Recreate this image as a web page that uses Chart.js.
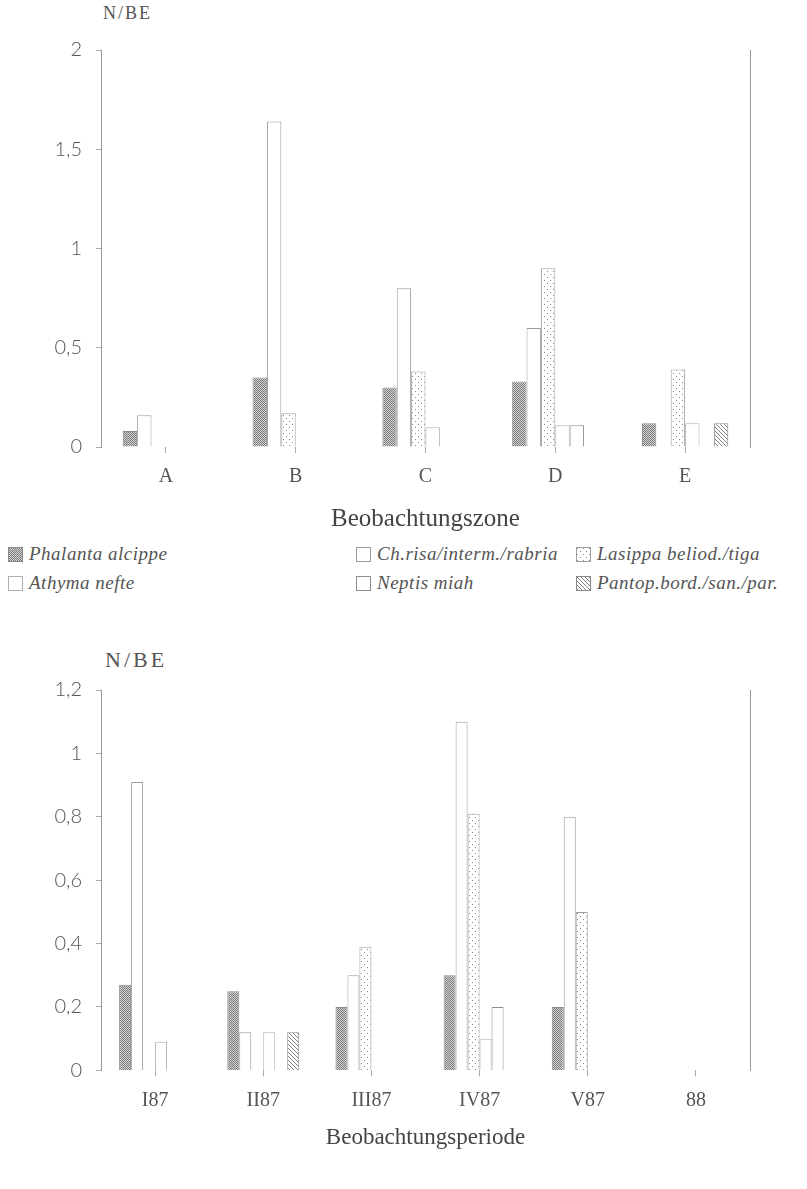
<!DOCTYPE html>
<html>
<head>
<meta charset="utf-8">
<script src="https://cdn.jsdelivr.net/npm/chart.js@4.4.1/dist/chart.umd.min.js"></script>
<style>
body { margin: 0; background: #fff; width: 807px; height: 1189px; position: relative; overflow: hidden; font-family: "Liberation Serif", serif; color: #555; }
.box { position: absolute; left: 0; width: 807px; }
.unit { position: absolute; color: #555; }
.item { position: absolute; display: flex; align-items: center; white-space: nowrap; font-style: italic; font-size: 19px; letter-spacing: 0.5px; color: #555; }
.item canvas { margin-right: 6px; }
</style>
</head>
<body>
<div class="unit" style="left:103px;top:3px;font-size:18px;letter-spacing:2px">N/BE</div>
<div class="box" style="top:0;height:538px"><canvas id="chart-zone"></canvas></div>
<div id="legend"></div>
<div class="unit" style="left:105px;top:647px;font-size:22px;letter-spacing:3px">N/BE</div>
<div class="box" style="top:600px;height:556px"><canvas id="chart-period"></canvas></div>
<script>
const species = ['Phalanta alcippe', 'Ch.risa/interm./rabria', 'Lasippa beliod./tiga', 'Athyma nefte', 'Neptis miah', 'Pantop.bord./san./par.'];

// oben: nach Beobachtungszone
const zones = ['A', 'B', 'C', 'D', 'E'];
const phalantaZone = [0.08, 0.35, 0.30, 0.33, 0.12];
const chrisaZone   = [0.16, 1.64, 0.80, 0.60, 0];
const lasippaZone  = [0, 0.17, 0.38, 0.90, 0.39];
const athymaZone   = [0, 0, 0.10, 0.11, 0.12];
const neptisZone   = [0, 0, 0, 0.11, 0];
const pantopZone   = [0, 0, 0, 0, 0.12];
const zoneTicks = [0, 0.5, 1, 1.5, 2];

// unten: nach Beobachtungsperiode
const periods = ['I87', 'II87', 'III87', 'IV87', 'V87', '88'];
const phalantaPeriod = [0.27, 0.25, 0.20, 0.30, 0.20, 0];
const chrisaPeriod   = [0.91, 0.12, 0.30, 1.10, 0.80, 0];
const lasippaPeriod  = [0, 0, 0.39, 0.81, 0.50, 0];
const athymaPeriod   = [0.09, 0.12, 0, 0.10, 0, 0];
const neptisPeriod   = [0, 0, 0, 0.20, 0, 0];
const pantopPeriod   = [0, 0.12, 0, 0, 0, 0];
const periodTicks = [0, 0.2, 0.4, 0.6, 0.8, 1, 1.2];

function makePattern(kind) {
  const c = document.createElement('canvas');
  const ctx = c.getContext('2d');
  if (kind === 'dense') {
    c.width = c.height = 2;
    ctx.fillStyle = '#d4d4d4'; ctx.fillRect(0, 0, 2, 2);
    ctx.fillStyle = '#7a7a7a'; ctx.fillRect(0, 0, 1, 1); ctx.fillRect(1, 1, 1, 1);
  } else if (kind === 'sparse') {
    c.width = c.height = 6;
    ctx.fillStyle = '#fff'; ctx.fillRect(0, 0, 6, 6);
    ctx.fillStyle = '#888'; ctx.fillRect(1, 1, 1, 1); ctx.fillRect(4, 4, 1, 1);
  } else {
    c.width = c.height = 4;
    ctx.fillStyle = '#fff'; ctx.fillRect(0, 0, 4, 4);
    ctx.fillStyle = '#808080';
    for (let i = 0; i < 4; i++) ctx.fillRect(i, i, 1, 1);
  }
  return ctx.createPattern(c, 'repeat');
}

const fills = [makePattern('dense'), '#fff', makePattern('sparse'), '#fff', '#fff', makePattern('hatch')];
const borders = ['#8a8a8a', '#9c9c9c', '#a0a0a0', '#b0b0b0', '#8c8c8c', '#8a8a8a'];

const fmt = v => String(Math.round(v * 10) / 10).replace('.', ',');

function drawChart(id, labels, series, ticks, title, cfg) {
  const max = ticks[ticks.length - 1];
  return new Chart(document.getElementById(id), {
    type: 'bar',
    data: {
      labels: labels,
      datasets: series.map((d, i) => ({
        label: species[i],
        data: d,
        backgroundColor: fills[i],
        borderColor: borders[i],
        borderWidth: { top: 1, left: 1, right: 1, bottom: 0 },
        categoryPercentage: 0.665,
        barPercentage: 1
      }))
    },
    options: {
      responsive: true, maintainAspectRatio: false, animation: false,
      layout: { padding: { left: 0, right: 57, top: cfg.top, bottom: 0 } },
      plugins: { legend: { display: false }, tooltip: { enabled: false } },
      scales: {
        x: {
          grid: { display: true, offset: false, drawOnChartArea: false, tickLength: 6, color: '#aaa' },
          border: { display: false },
          ticks: { color: '#555', font: { family: 'Liberation Serif', size: 20 }, padding: 12 },
          title: { display: true, text: title, color: '#444', font: { family: 'Liberation Serif', size: cfg.titleSize }, padding: { top: cfg.titlePad, bottom: 4 } }
        },
        y: {
          min: 0, max: max,
          afterBuildTicks: a => { a.ticks = ticks.map(v => ({ value: v })); },
          afterFit: a => { a.width = 101; },
          ticks: { color: '#555', font: { family: 'Lato', size: 20, weight: '300' }, padding: 14, callback: fmt },
          grid: { drawOnChartArea: false, tickLength: 5, color: '#aaa' },
          border: { color: '#999' }
        },
        y2: {
          position: 'right', min: 0, max: max,
          afterFit: a => { a.width = 0; },
          ticks: { display: false },
          grid: { display: false },
          border: { color: '#999' }
        }
      }
    }
  });
}

drawChart('chart-zone', zones, [phalantaZone, chrisaZone, lasippaZone, athymaZone, neptisZone, pantopZone], zoneTicks, 'Beobachtungszone', { top: 50, titleSize: 25, titlePad: 3 });
drawChart('chart-period', periods, [phalantaPeriod, chrisaPeriod, lasippaPeriod, athymaPeriod, neptisPeriod, pantopPeriod], periodTicks, 'Beobachtungsperiode', { top: 90, titleSize: 23, titlePad: 0 });

// Legende zwischen den beiden Diagrammen
const legendCols = [8, 356, 576];
const legendRows = [543, 572];
const legend = document.getElementById('legend');
species.forEach((name, i) => {
  const item = document.createElement('div');
  item.className = 'item';
  item.style.left = legendCols[i % 3] + 'px';
  item.style.top = legendRows[Math.floor(i / 3)] + 'px';
  const sw = document.createElement('canvas');
  sw.width = 15; sw.height = 15;
  const g = sw.getContext('2d');
  g.fillStyle = fills[i]; g.fillRect(0, 0, 15, 15);
  g.strokeStyle = borders[i]; g.strokeRect(0.5, 0.5, 14, 14);
  item.appendChild(sw);
  item.appendChild(document.createTextNode(name));
  legend.appendChild(item);
});
</script>
</body>
</html>
